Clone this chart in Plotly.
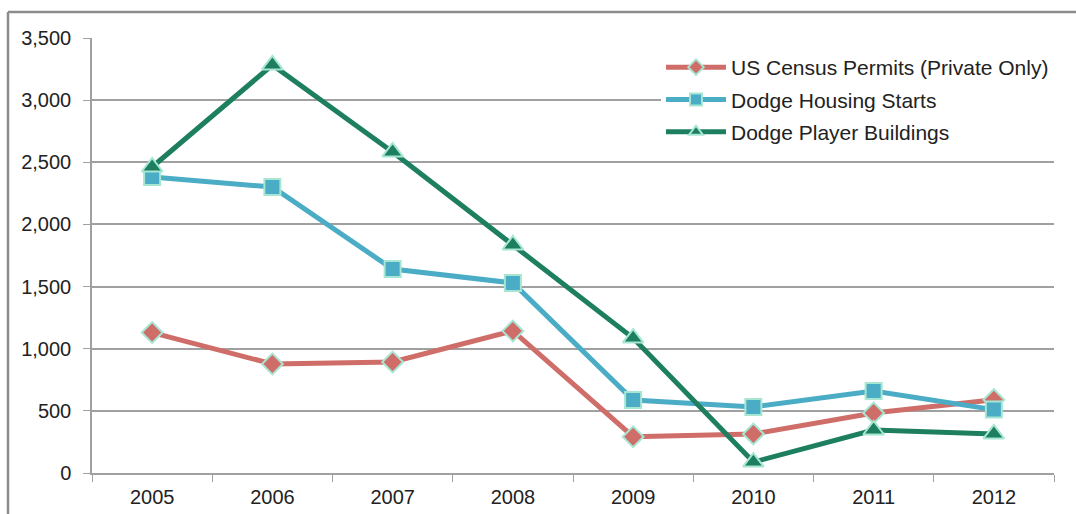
import plotly.graph_objects as go

years = ["2005", "2006", "2007", "2008", "2009", "2010", "2011", "2012"]
census_permits = [1130, 877, 893, 1143, 292, 314, 483, 590]
housing_starts = [2382, 2301, 1641, 1529, 587, 531, 660, 510]
player_buildings = [2462, 3283, 2583, 1835, 1086, 88, 346, 314]

series = [
    ("US Census Permits (Private Only)", census_permits, "#CF6D69", "diamond", 16),
    ("Dodge Housing Starts", housing_starts, "#4BACC6", "square", 16),
    ("Dodge Player Buildings", player_buildings, "#1E7F60", "triangle-up", 18),
]

fig = go.Figure()
for i, (name, vals, color, symbol, size) in enumerate(series):
    fig.add_trace(go.Scatter(
        x=years, y=vals, name=name, mode="lines+markers",
        legendgroup=f"g{i}",
        line=dict(color=color, width=5),
        marker=dict(symbol=symbol, size=size, color=color,
                    line=dict(color="#A6E6D2", width=2)),
    ))

L, R, T, B = 92, 22, 38, 41
W, H = 1076, 514
pw, ph = W - L - R, H - T - B

fig.update_layout(
    width=W, height=H,
    margin=dict(l=L, r=R, t=T, b=B, autoexpand=False),
    paper_bgcolor="white", plot_bgcolor="white",
    font=dict(family="Liberation Sans, Arial, sans-serif", size=20, color="#222222"),
    showlegend=True,
    legend=dict(
        x=(661 - L) / pw, y=1 - (47 - T) / ph, xanchor="left", yanchor="top",
        bgcolor="white", borderwidth=0, tracegroupgap=2,
        itemsizing="constant", itemwidth=60,
        font=dict(size=21, color="#222222"),
    ),
    xaxis=dict(
        type="category", range=[-0.5, 7.5], automargin=False,
        showline=True, linecolor="#A0A0A0", linewidth=1.5,
        ticks="outside", tickson="boundaries", ticklen=7, tickcolor="#A0A0A0",
        ticklabelstandoff=5,
        showgrid=False, tickfont=dict(size=20, color="#222222"),
    ),
    yaxis=dict(
        range=[0, 3500], dtick=500, tickformat=",", automargin=False,
        showline=True, linecolor="#A0A0A0", linewidth=1.5,
        ticks="outside", ticklen=7, tickcolor="#A0A0A0",
        ticklabelstandoff=8,
        showgrid=True, gridcolor="#A0A0A0", gridwidth=1.5,
        zeroline=False, tickfont=dict(size=20, color="#222222"),
    ),
    shapes=[
        dict(type="line", xref="paper", yref="paper",
             x0=(8 - L) / pw, x1=(8 - L) / pw,
             y0=1 + (T - 520) / ph, y1=1 + (T - 12) / ph,
             line=dict(color="#8C8C8C", width=2.5)),
        dict(type="line", xref="paper", yref="paper",
             x0=(8 - L) / pw, x1=(1080 - L) / pw,
             y0=1 + (T - 12) / ph, y1=1 + (T - 12) / ph,
             line=dict(color="#8C8C8C", width=2.5)),
    ],
)

fig.write_html("out.html")
